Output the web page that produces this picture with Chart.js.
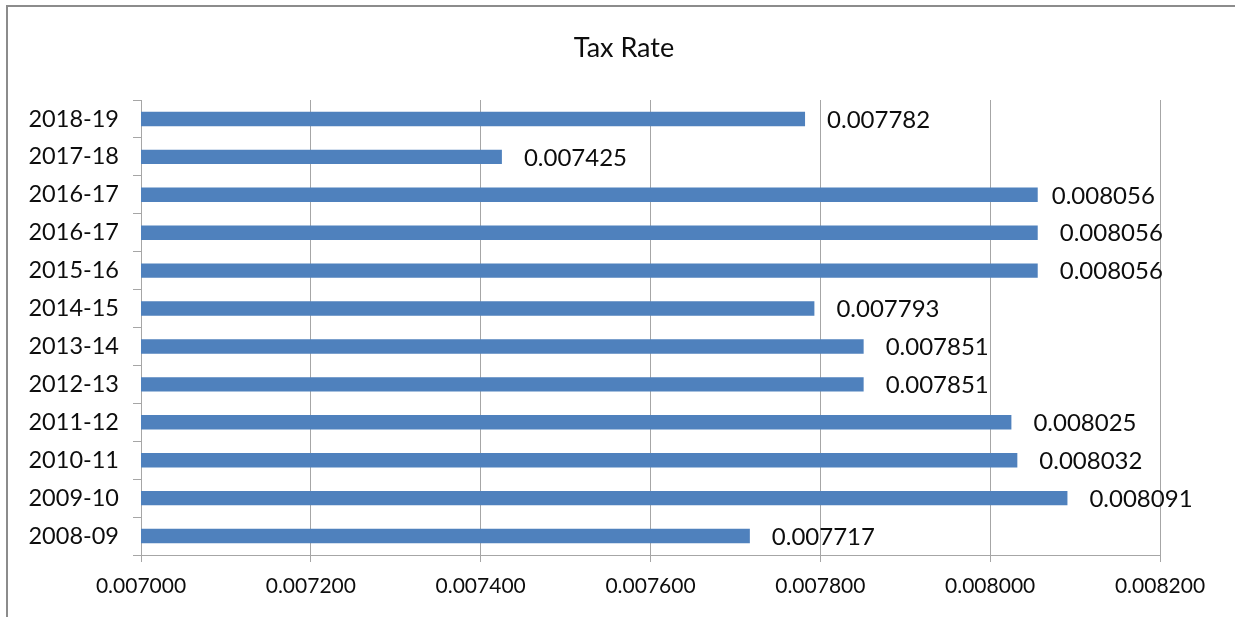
<!DOCTYPE html>
<html>
<head>
<meta charset="utf-8">
<script src="https://cdn.jsdelivr.net/npm/chart.js@4/dist/chart.umd.min.js"></script>
<style>
  html, body { margin: 0; padding: 0; background: #ffffff; }
  #wrap { width: 1235px; height: 617px; position: relative; }
</style>
</head>
<body>
<div id="wrap"><canvas id="chart" width="1235" height="617"></canvas></div>
<script>
// Fiscal years, top to bottom as listed on the axis
const years = ['2018-19', '2017-18', '2016-17', '2016-17', '2015-16', '2014-15',
               '2013-14', '2012-13', '2011-12', '2010-11', '2009-10', '2008-09'];
// Tax rate for each year
const taxRates = [0.007782, 0.007425, 0.008056, 0.008056, 0.008056, 0.007793,
                  0.007851, 0.007851, 0.008025, 0.008032, 0.008091, 0.007717];
// Value axis range and step
const axisMin = 0.007;
const axisMax = 0.0082;
const axisStep = 0.0002;
const chartTitle = 'Tax Rate';

const FONT = 'Lato, "Open Sans", sans-serif';
const GRID = '#a6a6a6';
const INK = '#0d0d0d';

// Grey frame around the chart
const framePlugin = {
  id: 'frame',
  beforeDraw(chart) {
    const ctx = chart.ctx;
    ctx.save();
    ctx.fillStyle = '#ffffff';
    ctx.fillRect(0, 0, chart.width, chart.height);
    ctx.strokeStyle = '#8c8c8c';
    ctx.lineWidth = 2;
    ctx.beginPath();
    ctx.moveTo(7, chart.height);
    ctx.lineTo(7, 6);
    ctx.lineTo(chart.width, 6);
    ctx.stroke();
    ctx.restore();
  }
};

// Title centred on the whole frame
const titlePlugin = {
  id: 'frameTitle',
  afterDraw(chart, args, opts) {
    const ctx = chart.ctx;
    ctx.save();
    ctx.font = opts.size + 'px ' + FONT;
    ctx.fillStyle = INK;
    ctx.textAlign = 'center';
    ctx.textBaseline = 'middle';
    ctx.fillText(opts.text, opts.x, opts.y);
    ctx.restore();
  }
};

// Value labels drawn just past the end of each bar
const valueLabels = {
  id: 'valueLabels',
  afterDatasetsDraw(chart, args, opts) {
    const ctx = chart.ctx;
    const meta = chart.getDatasetMeta(0);
    const values = chart.data.datasets[0].data;
    ctx.save();
    ctx.font = opts.size + 'px ' + FONT;
    ctx.fillStyle = INK;
    ctx.textAlign = 'left';
    ctx.textBaseline = 'middle';
    meta.data.forEach((bar, i) => {
      const gap = (opts.gaps && opts.gaps[i] != null) ? opts.gaps[i] : opts.gap;
      ctx.fillText(values[i].toFixed(6), bar.x + gap, bar.y + 1);
    });
    ctx.restore();
  }
};

new Chart(document.getElementById('chart'), {
  type: 'bar',
  data: {
    labels: years,
    datasets: [{
      data: taxRates,
      backgroundColor: '#4f81bd',
      borderColor: '#4f81bd',
      borderWidth: 0,
      categoryPercentage: 1,
      barPercentage: 0.38
    }]
  },
  plugins: [framePlugin, valueLabels, titlePlugin],
  options: {
    indexAxis: 'y',
    responsive: false,
    animation: false,
    devicePixelRatio: 1,
    layout: { padding: { left: 0, right: 75, top: 100, bottom: 0 } },
    plugins: {
      legend: { display: false },
      tooltip: { enabled: false },
      title: { display: false },
      frameTitle: { text: chartTitle, size: 27, x: 624, y: 48 },
      valueLabels: { size: 24, gap: 22, gaps: { 2: 14 } }
    },
    scales: {
      x: {
        type: 'linear',
        position: 'bottom',
        min: axisMin,
        max: axisMax,
        afterFit(scale) { scale.height = 62; },
        afterBuildTicks(scale) {
          const ticks = [];
          const n = Math.round((axisMax - axisMin) / axisStep);
          for (let i = 0; i <= n; i++) ticks.push({ value: axisMin + i * axisStep });
          scale.ticks = ticks;
        },
        ticks: {
          color: INK,
          font: { family: FONT, size: 21 },
          padding: 12,
          maxRotation: 0,
          autoSkip: false,
          callback: (v) => v.toFixed(6)
        },
        grid: {
          color: GRID,
          lineWidth: 1,
          drawTicks: true,
          tickLength: 7,
          tickColor: GRID
        },
        border: { display: true, color: GRID, width: 1 }
      },
      y: {
        type: 'category',
        afterFit(scale) { scale.width = 141; },
        ticks: {
          color: INK,
          font: { family: FONT, size: 23.5 },
          padding: 14,
          autoSkip: false
        },
        grid: {
          offset: true,
          drawOnChartArea: false,
          drawTicks: true,
          tickLength: 8,
          color: GRID,
          tickColor: GRID
        },
        border: { display: true, color: GRID, width: 1 }
      }
    }
  }
});
</script>
</body>
</html>
